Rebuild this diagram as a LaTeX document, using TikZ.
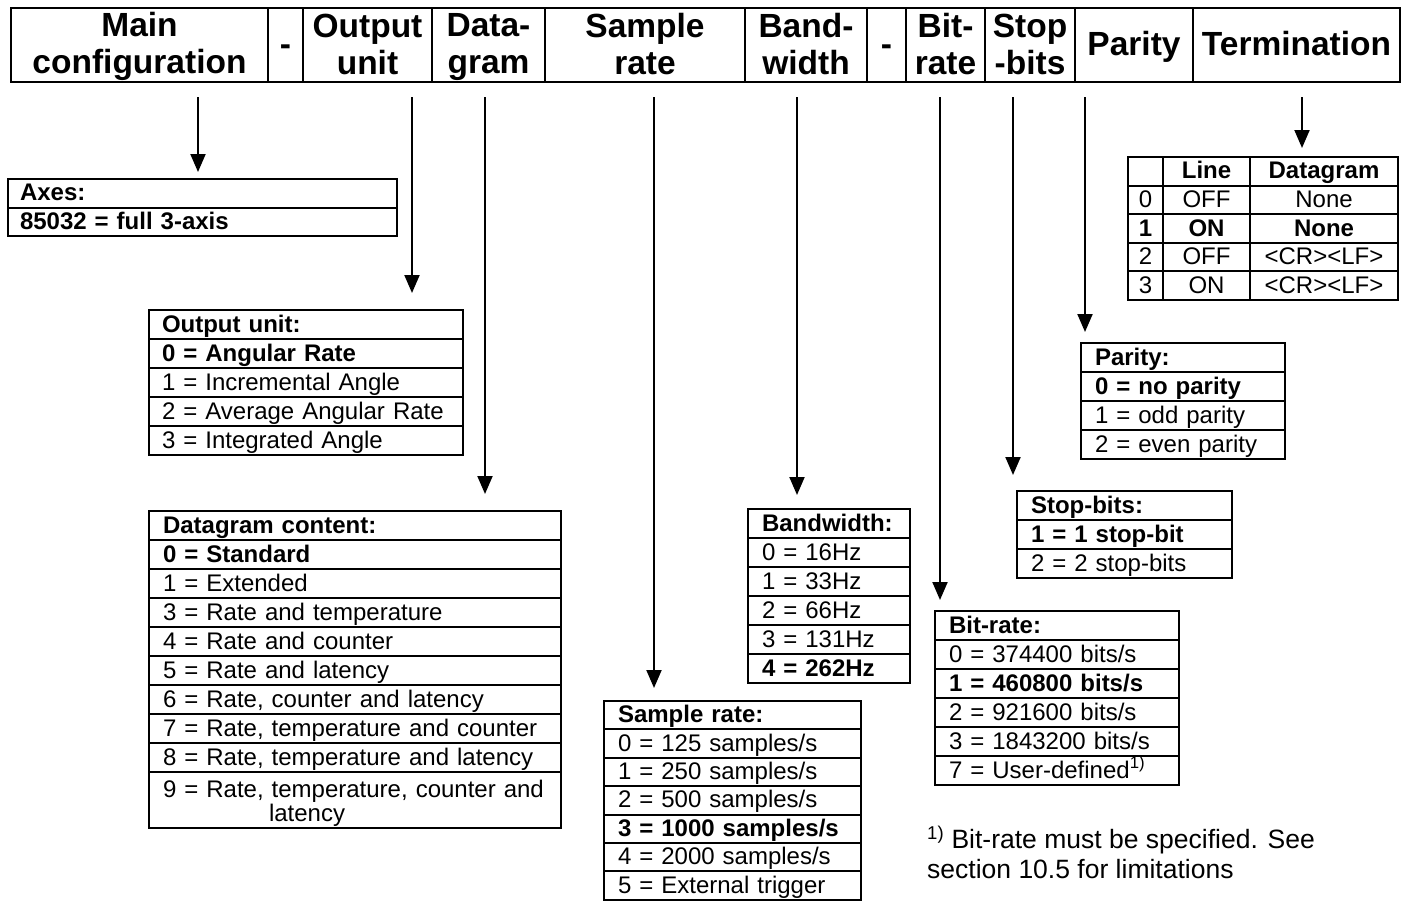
\documentclass[tikz,border=0pt]{standalone}
\usepackage{fontspec}
\setmainfont{Liberation Sans}
\usetikzlibrary{arrows.meta}
\newcommand\hfont{\bfseries\fontsize{33.5}{37}\selectfont}
\newcommand\hs{\rule[-6pt]{0pt}{33pt}}
\newcommand\bfont{\fontsize{24}{26}\selectfont}
\newcommand\ffont{\fontsize{26.5}{30}\selectfont}
\tikzset{
  hdr/.style={draw, line width=2.5pt, outer sep=0pt, minimum height=74pt, inner sep=0pt, anchor=north west, align=center, font=\hfont},
  row/.style={draw, line width=2pt, outer sep=0pt, anchor=north west, minimum height=29pt, inner xsep=14pt, inner ysep=0pt, text height=19pt, text depth=4pt, align=left, font=\bfont},
  tcell/.style={draw, line width=2pt, outer sep=0pt, anchor=north west, minimum height=28.6pt, inner sep=0pt, text height=19pt, text depth=4pt, align=center, font=\bfont},
  arr/.style={line width=2pt, -{Triangle[width=15pt,length=18pt]}},
}
\begin{document}
\begin{tikzpicture}[x=1pt,y=-1pt]
\useasboundingbox (0,0) rectangle (1407,902);
% header
\node[hdr, minimum width=257pt] (h1) at (11,8) {\hs Main\\\hs configuration};
\node[hdr, minimum width=35pt] (h2) at (268,8) {\hs -};
\node[hdr, minimum width=129pt] (h3) at (303,8) {\hs Output\\\hs unit};
\node[hdr, minimum width=113pt] (h4) at (432,8) {\hs Data-\\\hs gram};
\node[hdr, minimum width=200pt] (h5) at (545,8) {\hs Sample\\\hs rate};
\node[hdr, minimum width=122pt] (h6) at (745,8) {\hs Band-\\\hs width};
\node[hdr, minimum width=39pt] (h7) at (867,8) {\hs -};
\node[hdr, minimum width=79pt] (h8) at (906,8) {\hs Bit-\\\hs rate};
\node[hdr, minimum width=90pt] (h9) at (985,8) {\hs Stop\\\hs -bits};
\node[hdr, minimum width=118pt] (h10) at (1075,8) {\hs Parity};
\node[hdr, minimum width=207pt] (h11) at (1193,8) {\hs Termination};

% Axes
\tikzset{axs/.style={row, text width=365pt, inner xsep=12pt, minimum height=28.5pt}}
\node[axs] (ax0) at (8,179) {\bfseries Axes:};
\node[axs] (ax1) at (ax0.south west) {\bfseries 85032 = full 3-axis};

% Output unit
\tikzset{ous/.style={row, text width=288pt, inner xsep=13pt}}
\node[ous] (ou0) at (149,310) {\bfseries Output unit:};
\node[ous] (ou1) at (ou0.south west) {\bfseries 0 = Angular Rate};
\node[ous] (ou2) at (ou1.south west) {1 = Incremental Angle};
\node[ous] (ou3) at (ou2.south west) {2 = Average Angular Rate};
\node[ous] (ou4) at (ou3.south west) {3 = Integrated Angle};

% Datagram content
\tikzset{dgs/.style={row, text width=384pt}}
\node[dgs] (dg0) at (149,511) {\bfseries Datagram content:};
\node[dgs] (dg1) at (dg0.south west) {\bfseries 0 = Standard};
\node[dgs] (dg2) at (dg1.south west) {1 = Extended};
\node[dgs] (dg3) at (dg2.south west) {3 = Rate and temperature};
\node[dgs] (dg4) at (dg3.south west) {4 = Rate and counter};
\node[dgs] (dg5) at (dg4.south west) {5 = Rate and latency};
\node[dgs] (dg6) at (dg5.south west) {6 = Rate, counter and latency};
\node[dgs] (dg7) at (dg6.south west) {7 = Rate, temperature and counter};
\node[dgs] (dg8) at (dg7.south west) {8 = Rate, temperature and latency};
\node[dgs, minimum height=56pt, text height=17pt, text depth=23pt] (dg9) at (dg8.south west) {9 = Rate, temperature, counter and\\[-2pt]\hspace*{106pt}latency};

% Sample rate
\tikzset{srs/.style={row, text width=229pt, inner xsep=14pt, minimum height=28.4pt}}
\node[srs] (sr0) at (604,701) {\bfseries Sample rate:};
\node[srs] (sr1) at (sr0.south west) {0 = 125 samples/s};
\node[srs] (sr2) at (sr1.south west) {1 = 250 samples/s};
\node[srs] (sr3) at (sr2.south west) {2 = 500 samples/s};
\node[srs] (sr4) at (sr3.south west) {\bfseries 3 = 1000 samples/s};
\node[srs] (sr5) at (sr4.south west) {4 = 2000 samples/s};
\node[srs] (sr6) at (sr5.south west) {5 = External trigger};

% Bandwidth
\tikzset{bws/.style={row, text width=134pt}}
\node[bws] (bw0) at (748,509) {\bfseries Bandwidth:};
\node[bws] (bw1) at (bw0.south west) {0 = 16Hz};
\node[bws] (bw2) at (bw1.south west) {1 = 33Hz};
\node[bws] (bw3) at (bw2.south west) {2 = 66Hz};
\node[bws] (bw4) at (bw3.south west) {3 = 131Hz};
\node[bws] (bw5) at (bw4.south west) {\bfseries 4 = 262Hz};

% Bit-rate
\tikzset{brs/.style={row, text width=216pt}}
\node[brs] (br0) at (935,611) {\bfseries Bit-rate:};
\node[brs] (br1) at (br0.south west) {0 = 374400 bits/s};
\node[brs] (br2) at (br1.south west) {\bfseries 1 = 460800 bits/s};
\node[brs] (br3) at (br2.south west) {2 = 921600 bits/s};
\node[brs] (br4) at (br3.south west) {3 = 1843200 bits/s};
\node[brs] (br5) at (br4.south west) {7 = User-defined\textsuperscript{1)}};

% Stop-bits
\tikzset{sbs/.style={row, text width=187pt}}
\node[sbs] (sb0) at (1017,491) {\bfseries Stop-bits:};
\node[sbs] (sb1) at (sb0.south west) {\bfseries 1 = 1 stop-bit};
\node[sbs] (sb2) at (sb1.south west) {2 = 2 stop-bits};

% Parity
\tikzset{pas/.style={row, text width=176pt}}
\node[pas] (pa0) at (1081,343) {\bfseries Parity:};
\node[pas] (pa1) at (pa0.south west) {\bfseries 0 = no parity};
\node[pas] (pa2) at (pa1.south west) {1 = odd parity};
\node[pas] (pa3) at (pa2.south west) {2 = even parity};

% Termination table
\tikzset{ta/.style={tcell, minimum width=35pt}, tb/.style={tcell, minimum width=87pt}, tc/.style={tcell, minimum width=148pt}}
\node[ta] (t00) at (1128,157) {};
\node[tb] (t01) at (t00.north east) {\bfseries Line};
\node[tc] (t02) at (t01.north east) {\bfseries Datagram};
\node[ta] (t10) at (t00.south west) {0};
\node[tb] (t11) at (t10.north east) {OFF};
\node[tc] (t12) at (t11.north east) {None};
\node[ta] (t20) at (t10.south west) {\bfseries 1};
\node[tb] (t21) at (t20.north east) {\bfseries ON};
\node[tc] (t22) at (t21.north east) {\bfseries None};
\node[ta] (t30) at (t20.south west) {2};
\node[tb] (t31) at (t30.north east) {OFF};
\node[tc] (t32) at (t31.north east) {<CR><LF>};
\node[ta] (t40) at (t30.south west) {3};
\node[tb] (t41) at (t40.north east) {ON};
\node[tc] (t42) at (t41.north east) {<CR><LF>};

% footnote
\node[anchor=north west, inner sep=0pt, align=left, font=\ffont] (fn) at (927,826) {\textsuperscript{1)} Bit-rate must be specified. See\\section 10.5 for limitations};

% arrows
\coordinate (s1) at (198,97);
\coordinate (s2) at (412,97);
\coordinate (s3) at (485,97);
\coordinate (s4) at (654,97);
\coordinate (s5) at (797,97);
\coordinate (s6) at (940,97);
\coordinate (s7) at (1013,97);
\coordinate (s8) at (1085,97);
\coordinate (s9) at (1302,97);
\draw[arr, shorten >=7pt] (s1) -- (s1 |- ax0.north);
\draw[arr, shorten >=17pt] (s2) -- (s2 |- ou0.north);
\draw[arr, shorten >=17pt] (s3) -- (s3 |- dg0.north);
\draw[arr, shorten >=13pt] (s4) -- (s4 |- sr0.north);
\draw[arr, shorten >=14pt] (s5) -- (s5 |- bw0.north);
\draw[arr, shorten >=11pt] (s6) -- (s6 |- br0.north);
\draw[arr, shorten >=16pt] (s7) -- (s7 |- sb0.north);
\draw[arr, shorten >=11pt] (s8) -- (s8 |- pa0.north);
\draw[arr, shorten >=9pt] (s9) -- (s9 |- t00.north);
\end{tikzpicture}
\end{document}
